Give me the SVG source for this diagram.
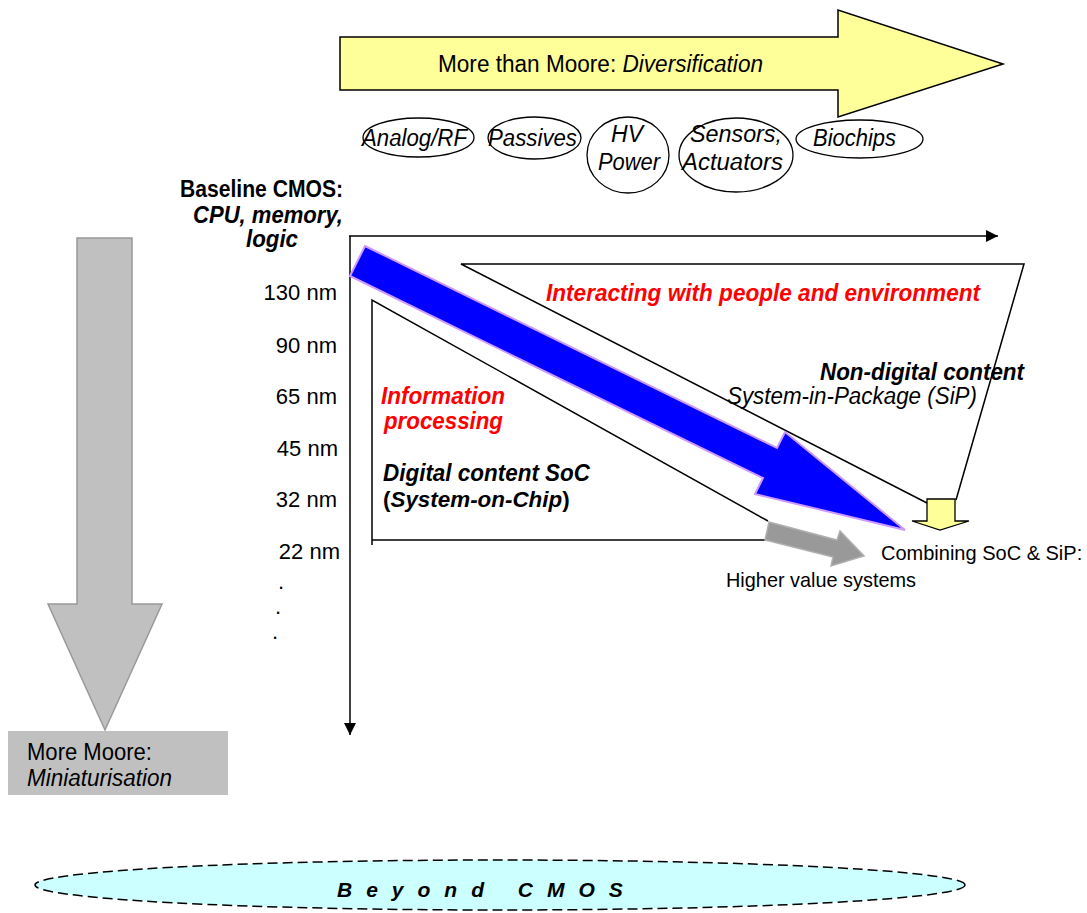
<svg xmlns="http://www.w3.org/2000/svg" width="1087" height="913" viewBox="0 0 1087 913">
<defs>
<style>
text{font-family:"Liberation Sans",Arial,sans-serif;font-size:23px;fill:#000}
.i{font-style:italic}
.b{font-weight:bold}
.bi{font-weight:bold;font-style:italic}
.red{fill:#ff0000}
.s20{font-size:20px}
.s21{font-size:21px}
.s22{font-size:22px}
.ell{fill:#fff;stroke:#000;stroke-width:1.3}
.ln{fill:none;stroke:#000;stroke-width:1.5}
.mid{text-anchor:middle}
.end{text-anchor:end}
</style>
<marker id="ah" viewBox="0 0 10 10" refX="10" refY="5" markerWidth="12" markerHeight="12" markerUnits="userSpaceOnUse" orient="auto">
<path d="M0,0 L10,5 L0,10 z" fill="#000"/>
</marker>
</defs>
<rect width="1087" height="913" fill="#fff"/>

<g id="more-than-moore">
<polygon points="340,37 838,37 838,10 1003,64 838,117 838,90 340,90" fill="#ffff99" stroke="#000" stroke-width="1.5"/>
<text x="438" y="72" textLength="325" lengthAdjust="spacingAndGlyphs">More than Moore: <tspan class="i">Diversification</tspan></text>
</g>

<g id="analog">
<ellipse cx="418.5" cy="137.5" rx="55.5" ry="19.5" class="ell"/>
<text x="362" y="146" class="i" textLength="105" lengthAdjust="spacingAndGlyphs">Analog/RF</text>
</g>
<g id="passives">
<ellipse cx="534.5" cy="138" rx="46.5" ry="21" class="ell"/>
<text x="488" y="146" class="i" textLength="89" lengthAdjust="spacingAndGlyphs">Passives</text>
</g>
<g id="hv-power">
<ellipse cx="628" cy="155" rx="41" ry="38" class="ell"/>
<text x="627" y="142" class="i mid">HV</text>
<text x="629" y="170" class="i mid" textLength="62" lengthAdjust="spacingAndGlyphs">Power</text>
</g>
<g id="sensors">
<ellipse cx="736" cy="155" rx="57" ry="37" class="ell"/>
<text x="690" y="142" class="i" textLength="92" lengthAdjust="spacingAndGlyphs">Sensors,</text>
<text x="682" y="170" class="i" textLength="101" lengthAdjust="spacingAndGlyphs">Actuators</text>
</g>
<g id="biochips">
<ellipse cx="859.5" cy="139" rx="63.5" ry="19" class="ell"/>
<text x="813" y="146" class="i" textLength="83" lengthAdjust="spacingAndGlyphs">Biochips</text>
</g>

<g id="baseline">
<text x="180" y="197" class="b" textLength="163" lengthAdjust="spacingAndGlyphs">Baseline CMOS:</text>
<text x="193" y="223" class="bi" textLength="150" lengthAdjust="spacingAndGlyphs">CPU, memory,</text>
<text x="246" y="247" class="bi" textLength="52" lengthAdjust="spacingAndGlyphs">logic</text>
</g>

<g id="more-moore-arrow">
<polygon points="77,238 132,238 132,604 162,604 105,730 48,604 77,604" fill="#c0c0c0" stroke="#999" stroke-width="1.5"/>
</g>
<g id="more-moore">
<rect x="8" y="731" width="220" height="64" fill="#c0c0c0"/>
<text x="27" y="760" textLength="125" lengthAdjust="spacingAndGlyphs">More Moore:</text>
<text x="27" y="786" class="i" textLength="145" lengthAdjust="spacingAndGlyphs">Miniaturisation</text>
</g>

<g id="nodes-scale">
<text x="337" y="300" class="end s22">130 nm</text>
<text x="337" y="353" class="end s22">90 nm</text>
<text x="337" y="404" class="end s22">65 nm</text>
<text x="338" y="456" class="end s22">45 nm</text>
<text x="337" y="507" class="end s22">32 nm</text>
<text x="340" y="559" class="end s22">22 nm</text>
<text x="278" y="589" class="s22">.</text>
<text x="275" y="614" class="s22">.</text>
<text x="272" y="639" class="s22">.</text>
</g>

<g id="connectors">
<line x1="350" y1="236" x2="350" y2="735" class="ln" marker-end="url(#ah)"/>
<line x1="349" y1="236" x2="998" y2="236" class="ln" marker-end="url(#ah)"/>
<polyline points="927,503 461,264 1024,264 956,500" class="ln"/>
<polyline points="768,521 372,300 372,545" class="ln"/>
<line x1="372" y1="540" x2="766" y2="540" class="ln"/>
</g>

<g id="blue-arrow">
<polygon points="365,246 777,448 785,432 905,530 755,494 763,478 350,276" fill="#0000ff" stroke="#cc99ff" stroke-width="2"/>
</g>

<g id="higher-value-arrow">
<polygon points="769,522 837,540 840,531 864,556 831,566 833,557 765,540" fill="#999" stroke="#b0b0b0" stroke-width="1.5"/>
</g>

<g id="combine-arrow">
<polygon points="927,499 955,499 955,521 969,521 940,530 912,521 927,521" fill="#ffff99" stroke="#000" stroke-width="1.3"/>
</g>

<g id="interacting">
<text x="546" y="301" class="bi red" textLength="434" lengthAdjust="spacingAndGlyphs">Interacting with people and environment</text>
</g>
<g id="non-digital">
<text x="820" y="380" class="bi" textLength="204" lengthAdjust="spacingAndGlyphs">Non-digital content</text>
<text x="727" y="404" class="i" textLength="250" lengthAdjust="spacingAndGlyphs">System-in-Package (SiP)</text>
</g>
<g id="information">
<text x="381" y="404" class="bi red" textLength="124" lengthAdjust="spacingAndGlyphs">Information</text>
<text x="384" y="429" class="bi red" textLength="119" lengthAdjust="spacingAndGlyphs">processing</text>
</g>
<g id="digital">
<text x="383" y="481" class="bi" textLength="207" lengthAdjust="spacingAndGlyphs">Digital content SoC</text>
<text x="383" y="507" class="b" style="font-size:22.4px">(<tspan class="bi">System-on-Chip</tspan>)</text>
</g>
<g id="combining">
<text x="881" y="560" class="s20">Combining SoC &amp; SiP:</text>
<text x="726" y="587" class="s21" textLength="190" lengthAdjust="spacingAndGlyphs">Higher value systems</text>
</g>

<g id="beyond-cmos">
<ellipse cx="500" cy="885" rx="465" ry="25" fill="#ccffff" stroke="#000" stroke-width="1.5" stroke-dasharray="10,5"/>
<text x="337" y="897" class="bi" style="font-size:21px;letter-spacing:14px">Beyond CMOS</text>
</g>
</svg>
